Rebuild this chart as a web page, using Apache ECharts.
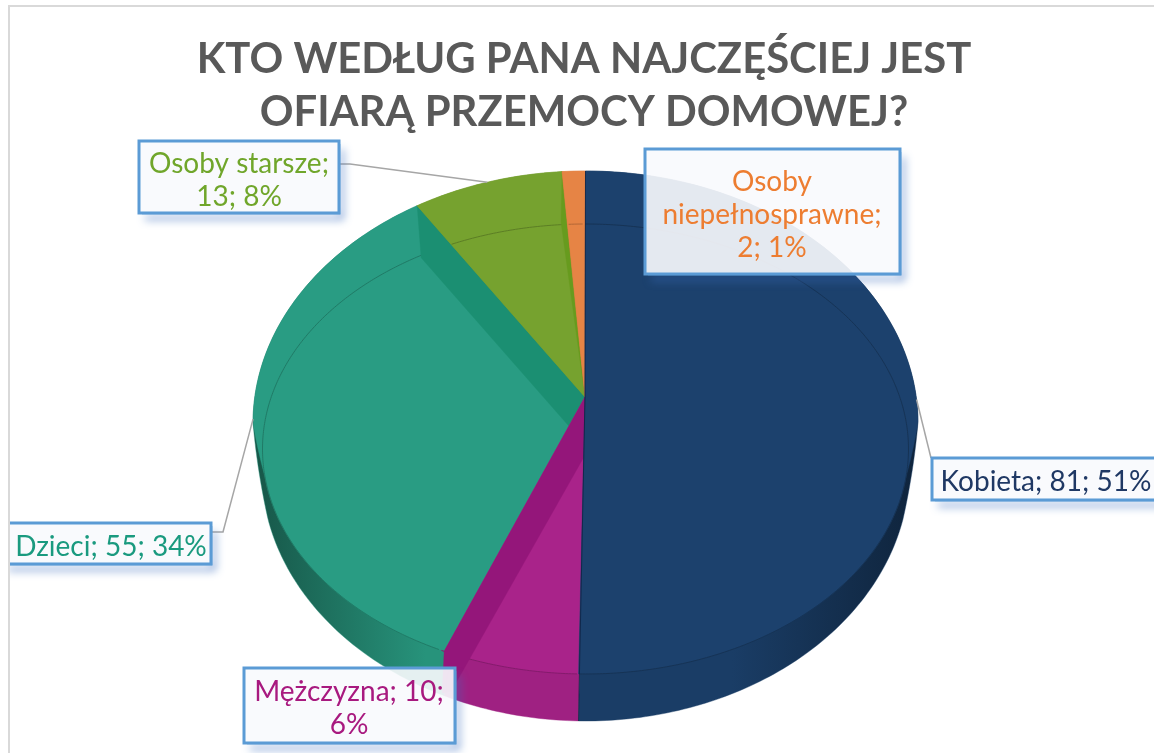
<!DOCTYPE html>
<html>
<head>
<meta charset="utf-8">
<style>
  html, body { margin: 0; padding: 0; background: #fff; }
  #main { width: 1154px; height: 753px; }
</style>
<script src="https://cdn.jsdelivr.net/npm/echarts@6/dist/echarts.min.js"></script>
</head>
<body>
<div id="main"></div>
<script>
const titleText = "KTO WEDŁUG PANA NAJCZĘŚCIEJ JEST\nOFIARĄ PRZEMOCY DOMOWEJ?";
const categories = ["Kobieta", "Mężczyzna", "Dzieci", "Osoby starsze", "Osoby niepełnosprawne"];
const values = [81, 10, 55, 13, 2];
const percents = [51, 6, 34, 8, 1];
const colors = ["#1c416d", "#a9238a", "#299c83", "#76a22f", "#e68445"];
const labelColors = ["#1f3864", "#a8197f", "#1a9a7f", "#70a62b", "#ed7d31"];

// pie geometry: perspective look of the original 3D pie
const pie = { cx: 585.5, cy: 423, rx: 332.5, ry: 252, depth: 46, bottomRx: 324, apexX: 585, apexY: 397, rimCy: 449, rimRx: 323, rimRy: 225, squeeze: 0.902 };
const drawZ = [50, 40, 10, 20, 30];
const cutWalls = {
  1: { color: "#94167a", apex: [0, 58], outer: [[7, 40], [-2, 42]] },
  2: { color: "#1b8f72", apex: [4, 52], outer: [[4, 52]] },
  3: { color: "#679b1e", apex: [0, 0], outer: [[-1, 51]] }
};
const labelBoxes = [
  { x: 932, y: 458, w: 240, h: 42, tx: 1046, text: "Kobieta; 81; 51%", line: true, elbow: null },
  { x: 244, y: 668, w: 211, h: 75, tx: 349, text: "Mężczyzna; 10;\n6%", line: false },
  { x: 2, y: 523, w: 209, h: 41, tx: 111, text: "Dzieci; 55; 34%", line: true, elbow: [[211, 532], [223, 532]] },
  { x: 139, y: 141, w: 200, h: 72, tx: 239, text: "Osoby starsze;\n13; 8%", line: true, elbow: [[339, 164], [350, 164]] },
  { x: 645, y: 149, w: 255, h: 125, tx: 772, text: "Osoby\nniepełnosprawne;\n2; 1%", line: false }
];

const total = values.reduce((a, b) => a + b, 0);
const apex = [pie.apexX, pie.apexY];

function shade(hex, factor) {
  const n = parseInt(hex.slice(1), 16);
  const ch = [(n >> 16) & 255, (n >> 8) & 255, n & 255].map((c) => Math.round(c * factor));
  return "rgb(" + ch.join(",") + ")";
}
function mix(p, q, t) {
  return [p[0] + (q[0] - p[0]) * t, p[1] + (q[1] - p[1]) * t];
}

// angle around the real circle -> angle on the drawn ellipse (seen in perspective)
function toEllipse(deg) {
  const d = ((deg + 180) % 360) - 180;
  return (2 * Math.atan(pie.squeeze * Math.tan((d / 2) * Math.PI / 180)) * 180) / Math.PI;
}
function edgePoint(deg) {
  const a = deg * Math.PI / 180;
  return [pie.cx + pie.rx * Math.sin(a), pie.cy - pie.ry * Math.cos(a)];
}
function rimPoint(deg) {
  const a = deg * Math.PI / 180;
  return [pie.cx + pie.rimRx * Math.sin(a), pie.rimCy - pie.rimRy * Math.cos(a)];
}
function bottomPoint(deg) {
  const a = deg * Math.PI / 180;
  return [pie.cx + pie.bottomRx * Math.sin(a), pie.cy + pie.depth - pie.ry * Math.cos(a)];
}
function outlinePoint(deg) {
  const c = -Math.cos(deg * Math.PI / 180);
  if (c <= 0) return edgePoint(deg);
  return mix(edgePoint(deg), bottomPoint(deg), Math.min(1, c / 0.2));
}
function facePoint(deg) {
  const c = -Math.cos(deg * Math.PI / 180);
  return mix(edgePoint(deg), rimPoint(deg), Math.max(0, Math.min(1, c / 0.12)));
}
function arc(fn, from, to) {
  const pts = [];
  const n = Math.max(2, Math.ceil(Math.abs(to - from)));
  for (let k = 0; k <= n; k++) pts.push(fn(from + ((to - from) * k) / n));
  return pts;
}

let acc = 0;
const slices = values.map((v) => {
  const start = (acc / total) * 360;
  acc += v;
  const end = (acc / total) * 360;
  const fix = (x) => { let e = toEllipse(x); return e < 0 ? e + 360 : e; };
  return { from: start === 0 ? 0 : fix(start), to: end >= 360 ? 360 : fix(end), mid: fix((start + end) / 2) };
});

function renderSlice(params, api) {
  const i = api.value(0);
  const s = slices[i];
  const z = drawZ[i];
  const base = colors[i];
  const dark = shade(base, 0.55);
  const wallBase = shade(base, 0.94);
  const wallFill = new echarts.graphic.LinearGradient(pie.cx - pie.rx, 0, pie.cx + pie.rx, 0, [
    { offset: 0, color: dark },
    { offset: 0.26, color: wallBase },
    { offset: 0.72, color: wallBase },
    { offset: 1, color: dark }
  ], true);
  const kids = [];
  kids.push({
    type: "polygon", z2: z,
    shape: { points: [apex].concat(arc(outlinePoint, s.from, s.to)) },
    style: { fill: wallFill, stroke: wallBase, lineWidth: 0.4 }
  });
  kids.push({
    type: "polygon", z2: z + 1,
    shape: { points: [apex].concat(arc(facePoint, s.from, s.to)) },
    style: { fill: base, stroke: base, lineWidth: 0.4 }
  });
  // thin bevel line, only the part inside this wedge
  const a0 = Math.atan2(edgePoint(s.from)[0] - apex[0], apex[1] - edgePoint(s.from)[1]);
  const a1 = Math.atan2(edgePoint(s.to)[0] - apex[0], apex[1] - edgePoint(s.to)[1]);
  const norm = (a) => (a < 0 ? a + Math.PI * 2 : a);
  const lo = s.from === 0 ? 0 : norm(a0), hi = s.to === 360 ? Math.PI * 2 : norm(a1);
  const rim = [];
  for (let d = 0; d <= 360; d += 0.5) {
    const p = rimPoint(d);
    const a = norm(Math.atan2(p[0] - apex[0], apex[1] - p[1]));
    if (a >= lo && a <= hi) rim.push(p);
  }
  rim.sort((p, q) => norm(Math.atan2(p[0] - apex[0], apex[1] - p[1])) - norm(Math.atan2(q[0] - apex[0], apex[1] - q[1])));
  kids.push({
    type: "polyline", z2: z + 2,
    shape: { points: rim },
    style: { fill: null, stroke: shade(base, 0.78), lineWidth: 1 }
  });
  // the cut wall seen through the slice edge
  const cut = cutWalls[i];
  if (cut) {
    const p = facePoint(s.to);
    const pts = [apex, [apex[0] + cut.apex[0], apex[1] + cut.apex[1]]];
    cut.outer.forEach((o) => pts.push([p[0] + o[0], p[1] + o[1]]));
    pts.push(p);
    kids.push({
      type: "polygon", z2: z + 3,
      shape: { points: pts },
      style: { fill: cut.color, stroke: cut.color, lineWidth: 0.4 }
    });
  }
  // dark seam down the two straight sides of the biggest slice
  if (i === 0) {
    kids.push({
      type: "polyline", z2: z + 4,
      shape: { points: [outlinePoint(s.from), apex, outlinePoint(s.to)] },
      style: { fill: null, stroke: "rgba(10,20,50,0.55)", lineWidth: 1 }
    });
  }
  return { type: "group", children: kids };
}

function renderLabel(params, api) {
  const i = api.value(0);
  const b = labelBoxes[i];
  const kids = [];
  if (b.line) {
    const pts = (b.elbow || [[b.x - 1, b.y]]).concat([edgePoint(slices[i].mid)]);
    kids.push({
      type: "polyline", z2: 100,
      shape: { points: pts },
      style: { fill: null, stroke: "#a6a6a6", lineWidth: 1.5 }
    });
  }
  // soft shadow only along the right and bottom edges, so it does not tint the see-through fill
  kids.push({
    type: "polyline", z2: 101,
    shape: { points: [[b.x + b.w, b.y + 3], [b.x + b.w, b.y + b.h], [b.x + 3, b.y + b.h]] },
    style: {
      fill: null, stroke: "#5b9bd5", lineWidth: 2.5,
      shadowBlur: 9, shadowColor: "rgba(60,110,190,1)", shadowOffsetX: 3, shadowOffsetY: 5
    }
  });
  kids.push({
    type: "rect", z2: 102,
    shape: { x: b.x, y: b.y, width: b.w, height: b.h },
    style: { fill: "rgba(248,250,253,0.91)", stroke: "#5b9bd5", lineWidth: 3 }
  });
  kids.push({
    type: "text", z2: 103,
    style: {
      x: b.tx, y: b.y + b.h / 2 + 3, text: b.text, align: "center", verticalAlign: "middle",
      fill: labelColors[i], font: "28px Lato", lineHeight: 33
    }
  });
  return { type: "group", children: kids };
}

const seriesData = values.map((v, i) => [i, v, percents[i], categories[i]]);

const options = {
  animation: false,
  backgroundColor: "#ffffff",
  title: {
    text: titleText,
    left: 579,
    top: 28,
    textAlign: "center",
    textStyle: { fontFamily: "Lato", fontWeight: "bold", fontSize: 41.8, lineHeight: 53, color: "#595959" }
  },
  graphic: [
    { type: "rect", silent: true, z: 9, shape: { x: 0, y: 0, width: 9, height: 753 }, style: { fill: "#ffffff" } },
    {
      type: "polyline", silent: true, z: 10,
      shape: { points: [[9, 753], [9, 6], [1154, 6]] },
      style: { fill: null, stroke: "#d9d9d9", lineWidth: 2 }
    }
  ],
  series: [
    { type: "custom", coordinateSystem: "none", silent: true, clip: false, renderItem: renderSlice, data: seriesData, z: 2 },
    { type: "custom", coordinateSystem: "none", silent: true, clip: false, renderItem: renderLabel, data: seriesData, z: 3 }
  ]
};

var myChart = echarts.init(document.querySelector("#main"));
myChart.setOption(options);
window.onresize = function() {
  myChart.resize();
};
</script>
</body>
</html>
